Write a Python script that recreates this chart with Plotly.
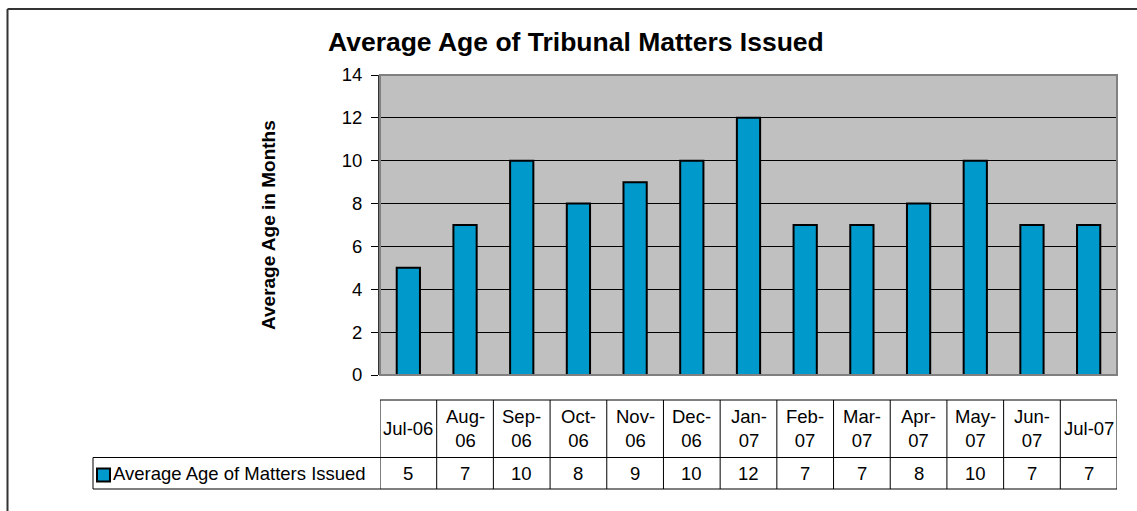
import plotly.graph_objects as go

categories = ["Jul-06", "Aug-06", "Sep-06", "Oct-06", "Nov-06", "Dec-06", "Jan-07",
              "Feb-07", "Mar-07", "Apr-07", "May-07", "Jun-07", "Jul-07"]
header_labels = ["Jul-06", "Aug-<br>06", "Sep-<br>06", "Oct-<br>06", "Nov-<br>06", "Dec-<br>06",
                 "Jan-<br>07", "Feb-<br>07", "Mar-<br>07", "Apr-<br>07", "May-<br>07", "Jun-<br>07", "Jul-07"]
values = [5, 7, 10, 8, 9, 10, 12, 7, 7, 8, 10, 7, 7]
series_name = "Average Age of Matters Issued"
title_text = "Average Age of Tribunal Matters Issued"
y_title = "Average Age in Months"

W, H = 1137, 511
L, R, T, B = 380, 1117, 75, 375
FONT = "Arial, Liberation Sans, Helvetica, sans-serif"
BAR = "#0099CC"


def px(x):
    return (x - L) / (R - L)


def py(y):
    return (B - y) / (B - T)


fig = go.Figure()
fig.add_trace(go.Bar(
    x=list(range(len(categories))), y=values, name=series_name,
    marker=dict(color=BAR, line=dict(color="black", width=2)),
    width=0.41, showlegend=False, hoverinfo="skip",
))

shapes = []
annotations = []

# plot border
shapes.append(dict(type="rect", xref="paper", yref="paper", x0=0, x1=1, y0=0, y1=1,
                   line=dict(color="#808080", width=2), layer="above"))

# outer chart frame (left & top visible)
shapes.append(dict(type="line", xref="paper", yref="paper", x0=px(7.5), x1=px(7.5), y0=py(9), y1=py(520),
                   line=dict(color="#333333", width=2)))
shapes.append(dict(type="line", xref="paper", yref="paper", x0=px(7.5), x1=px(1145), y0=py(9), y1=py(9),
                   line=dict(color="#333333", width=2)))

# data table
t_top, t_mid, t_bot = 400, 457.5, 489
lc = dict(color="black", width=1)
n = len(categories)
shapes.append(dict(type="line", xref="x", yref="paper", x0=-0.5, x1=n - 0.5, y0=py(t_top), y1=py(t_top), line=lc))
shapes.append(dict(type="line", xref="paper", yref="paper", x0=px(93), x1=1, y0=py(t_mid), y1=py(t_mid), line=lc))
shapes.append(dict(type="line", xref="paper", yref="paper", x0=px(93), x1=1, y0=py(t_bot), y1=py(t_bot), line=lc))
for i in range(n + 1):
    shapes.append(dict(type="line", xref="x", yref="paper", x0=i - 0.5, x1=i - 0.5,
                       y0=py(t_top), y1=py(t_bot), line=lc))
shapes.append(dict(type="line", xref="paper", yref="paper", x0=px(93), x1=px(93),
                   y0=py(t_mid), y1=py(t_bot), line=lc))

TFS = 18.5
for i, (h, v) in enumerate(zip(header_labels, values)):
    annotations.append(dict(xref="x", yref="paper", x=i, y=py((t_top + t_mid) / 2), text=h,
                            showarrow=False, font=dict(family=FONT, size=TFS, color="black"),
                            align="center", yanchor="middle"))
    annotations.append(dict(xref="x", yref="paper", x=i, y=py((t_mid + t_bot) / 2), text=str(v),
                            showarrow=False, font=dict(family=FONT, size=TFS, color="black"),
                            yanchor="middle"))

# legend key in table
shapes.append(dict(type="rect", xref="paper", yref="paper", x0=px(97), x1=px(110),
                   y0=py(481.5), y1=py(468.5), fillcolor=BAR, line=dict(color="black", width=2)))
annotations.append(dict(xref="paper", yref="paper", x=px(111), y=py((t_mid + t_bot) / 2),
                        text=series_name, showarrow=False, xanchor="left", yanchor="middle",
                        font=dict(family=FONT, size=TFS, color="black")))

# title
annotations.append(dict(xref="paper", yref="paper", x=px(576), y=py(42), text="<b>%s</b>" % title_text,
                        showarrow=False, xanchor="center", yanchor="middle",
                        font=dict(family=FONT, size=26.5, color="black")))
# y axis title
annotations.append(dict(xref="paper", yref="paper", x=px(268), y=py(225), text="<b>%s</b>" % y_title,
                        showarrow=False, textangle=-90, xanchor="center", yanchor="middle",
                        font=dict(family=FONT, size=19, color="black")))

fig.update_layout(
    width=W, height=H,
    margin=dict(l=L, r=W - R, t=T, b=H - B, pad=0),
    paper_bgcolor="white", plot_bgcolor="#C0C0C0",
    shapes=shapes, annotations=annotations,
    xaxis=dict(range=[-0.5, n - 0.5], showticklabels=False, showgrid=False, zeroline=False,
               showline=False, ticks=""),
    yaxis=dict(range=[0, 14], dtick=2, tick0=0, showgrid=True, gridcolor="black", gridwidth=1,
               zeroline=True, zerolinecolor="black", zerolinewidth=1,
               showline=True, linecolor="#333333", linewidth=2, ticks="outside", ticklen=7,
               tickcolor="black", ticklabelstandoff=5,
               tickfont=dict(family=FONT, size=18.5, color="black")),
    font=dict(family=FONT),
    hovermode=False,
)

fig.write_html("out.html", config={"displayModeBar": False},
               post_script="document.body.style.margin='0';document.body.style.overflow='hidden';")
